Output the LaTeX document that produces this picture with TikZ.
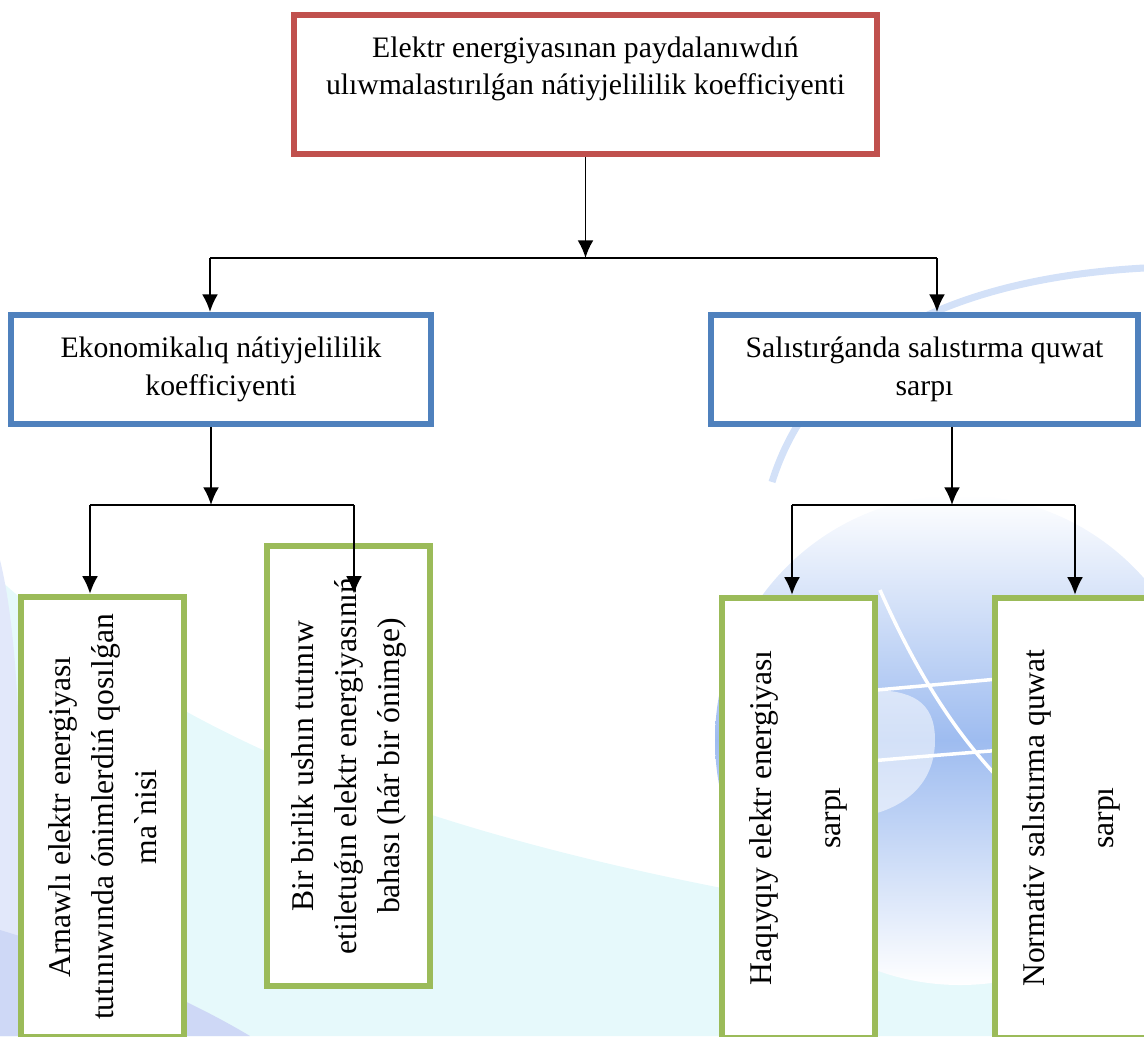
\documentclass[tikz,border=0pt]{standalone}
\usepackage{fontspec}
\setmainfont{Liberation Serif}
\usetikzlibrary{arrows.meta, positioning}
\definecolor{boxred}{RGB}{192,80,77}
\definecolor{boxblue}{RGB}{79,129,189}
\definecolor{boxgreen}{RGB}{155,187,89}
\definecolor{bgcyan}{RGB}{230,249,251}
\definecolor{bgblue}{RGB}{206,216,246}
\definecolor{globeblue}{RGB}{158,188,240}
\tikzset{
	mainbox/.style={draw=boxred, line width=3.4pt, fill=white, align=center, inner sep=0pt, font=\fontsize{16.9}{21.5}\selectfont},
	coefbox/.style={draw=boxblue, line width=3.4pt, fill=white, align=center, inner sep=0pt, font=\fontsize{16.9}{21.5}\selectfont},
	itembox/.style={draw=boxgreen, line width=3.4pt, fill=white, align=center, inner sep=0pt, rotate=90, font=\fontsize{18}{24.4}\selectfont},
	widebox/.style={itembox, font=\fontsize{18}{39}\selectfont},
}

\begin{document}
\begin{tikzpicture}[x=0.02cm, y=-0.02cm]
	\useasboundingbox (0,0) rectangle (1144,1036);
	\clip (0,0) rectangle (1144,1036);
	
	% background
	\fill[bgcyan] (0,1036) -- (0,580) .. controls (200,760) and (500,880) .. (1144,950) -- (1144,1036) -- cycle;
	\fill[bgblue!60] (0,560) .. controls (20,640) and (25,800) .. (20,1036) -- (0,1036) -- cycle;
	\fill[bgblue] (0,930) .. controls (100,960) and (190,1000) .. (250,1036) -- (0,1036) -- cycle;
	\shade[top color=white, bottom color=white, middle color=globeblue] (960,740) circle (245);
	\fill[white, opacity=0.55] (870,690) .. controls (910,690) and (935,700) .. (935,740) .. controls (935,780) and (910,805) .. (870,815) -- cycle;
	\draw[white, line width=2pt] (880,590) .. controls (920,680) and (960,740) .. (1010,790);
	\draw[white, line width=2pt] (760,700) .. controls (880,690) and (990,680) .. (1144,665);
	\draw[white, line width=2pt] (770,770) .. controls (880,760) and (990,750) .. (1144,740);
	\draw[globeblue, line width=4pt, opacity=0.45] (772,482) .. controls (810,360) and (930,280) .. (1144,268);
	
	\node (top) [mainbox, minimum width=11.66cm, minimum height=2.78cm] at (585.5,84.5) {Elektr energiyasınan paydalanıwdıń\\ulıwmalastırılǵan nátiyjelililik koefficiyenti\\ ~};
	
	\node (econ) [coefbox, minimum width=8.42cm, minimum height=2.18cm] at (221,369.5) {Ekonomikalıq nátiyjelililik\\koefficiyenti};
	\node (comp) [coefbox, minimum width=8.56cm, minimum height=2.18cm] at (924.5,369.5) {Salıstırǵanda salıstırma quwat\\sarpı};
	
	\node (special) [itembox, minimum width=8.81cm, minimum height=3.28cm] at (102.5,817) {Arnawlı elektr energiyası\\tutınıwında ónimlerdiń qosılǵan\\ma\textasciigrave nisi};
	\node (unit) [itembox, minimum width=8.81cm, minimum height=3.27cm] at (348.75,766) {Bir birlik ushın tutınıw\\etiletuǵın elektr energiyasınıń\\bahası (hár bir ónimge)};
	\node (actual) [widebox, minimum width=8.81cm, minimum height=3.06cm] at (798.5,818) {Haqıyqıy elektr energiyası\\sarpı};
	\node (norm) [widebox, minimum width=8.81cm, minimum height=3.06cm] at (1071.5,818) {Normativ salıstırma quwat\\sarpı};
	
	\coordinate (j0) at (585.5,258);
	\coordinate (j0l) at (210,258);
	\coordinate (j0r) at (937,258);
	\coordinate (j1) at (211,505);
	\coordinate (j1l) at (90,505);
	\coordinate (j1r) at (354,505);
	\coordinate (j2) at (952,505);
	\coordinate (j2l) at (792,505);
	\coordinate (j2r) at (1075,505);
	
	\begin{scope}[line width=1.1pt, black, ->, >={Latex[length=10pt, width=9pt]}]
		\draw (top) -- (j0);
		\draw[-] (j0l) -- (j0r);
		\draw (j0l) -- (j0l |- econ.north);
		\draw (j0r) -- (j0r |- comp.north);
		
		\draw (j1 |- econ.south) -- (j1);
		\draw[-] (j1l) -- (j1r);
		\draw (j1l) -- (j1l |- special.east);
		\draw (j1r) -- (j1r |- special.east);
		
		\draw (j2 |- comp.south) -- (j2);
		\draw[-] (j2l) -- (j2r);
		\draw (j2l) -- (j2l |- actual.east);
		\draw (j2r) -- (j2r |- norm.east);
	\end{scope}
	
\end{tikzpicture}
\end{document}
